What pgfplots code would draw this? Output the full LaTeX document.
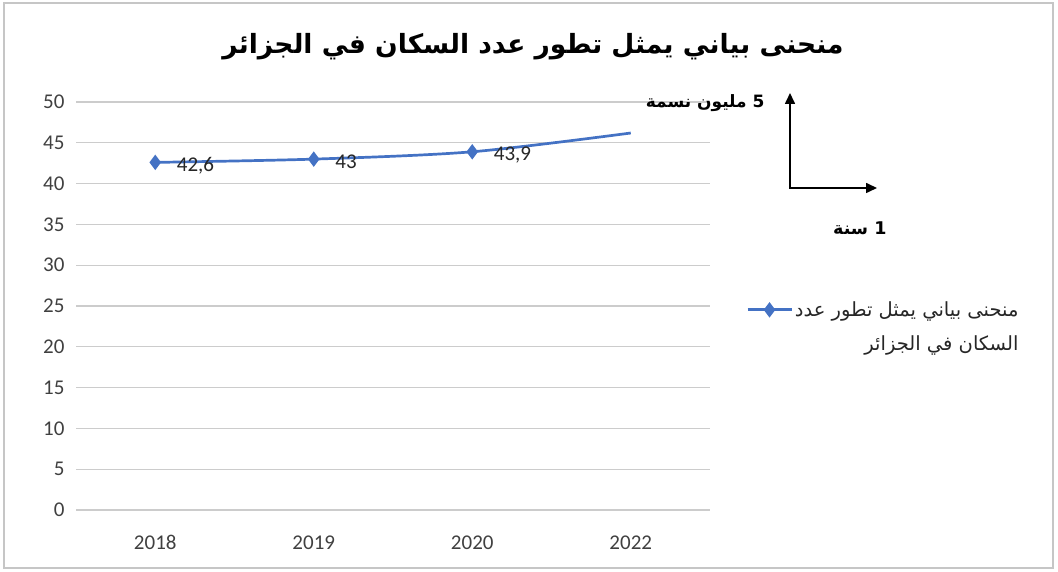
\documentclass[border=0pt]{standalone}
\usepackage{fontspec}
\setmainfont{Carlito}
\newfontfamily\arabicfont[Script=Arabic]{DejaVu Sans}
\TeXXeTstate=1
\usepackage{pgfplots}
\pgfplotsset{compat=1.18}
\usetikzlibrary{arrows.meta}
\definecolor{serieblue}{HTML}{4472C4}
\definecolor{ticktext}{HTML}{404040}

\begin{document}
\begin{tikzpicture}[x=1pt,y=1pt]
\path[use as bounding box] (0,0) rectangle (1058,-572);
\draw[gray!45, line width=1.2pt] (4,-3) rectangle (1053,-568);

% title
\node[font=\arabicfont\bfseries\fontsize{26.5}{30}\selectfont] at (533,-47)
  {\beginR منحنى بياني يمثل تطور عدد السكان في الجزائر\endR};

\begin{axis}[
  at={(76pt,-510pt)}, anchor=south west,
  scale only axis, width=634pt, height=408pt,
  xmin=-0.5, xmax=3.5, ymin=0, ymax=50,
  xtick={0,1,2,3}, xticklabels={2018,2019,2020,2022},
  ytick={0,5,...,50},
  axis line style={draw=none},
  major tick length=0pt,
  ymajorgrids, grid style={gray!40, line width=1.2pt},
  tick label style={font=\fontsize{21}{24}\selectfont, text=ticktext},
  /pgf/number format/assume math mode=true,
  yticklabel style={anchor=east, xshift=-8pt},
  xticklabel style={anchor=north, yshift=-22pt},
  clip=false,
  legend style={draw=none, fill=none, at={(1.052,0.449)}, anchor=west,
    font=\arabicfont\fontsize{19.5}{34}\selectfont, text=black!85,
    cells={align=right}},
  legend image code/.code={
    \draw[#1, yshift=17pt] (0pt,0pt) -- (44pt,0pt);
    \draw[#1, yshift=17pt] plot coordinates {(22pt,0pt)};
  },
]
\addplot[serieblue, line width=2.7pt, smooth, mark=diamond*,
  mark size=5.5pt, mark indices={1,2,3}, mark options={solid},
  nodes near coords, point meta=explicit symbolic,
  every node near coord/.style={anchor=west, xshift=17pt, yshift=-3pt,
    font=\fontsize{21}{24}\selectfont, text=black!85}]
  table[meta=lab] {
x y lab
0 42.6 42,6
1 43 43
2 43.9 43,9
3 46.2 {}
};
\addlegendentry{\beginR منحنى بياني يمثل تطور عدد\endR\\\beginR السكان في الجزائر\endR}
\end{axis}

% unit arrows
\draw[line width=1.6pt, -{Triangle[length=11pt,width=10pt]}] (790,-188) -- (790,-93);
\draw[line width=1.6pt, -{Triangle[length=11pt,width=10pt]}] (789.2,-188) -- (877,-188);
\node[anchor=east, font=\arabicfont\bfseries\fontsize{17}{20}\selectfont] at (768,-103)
  {\beginR 5 مليون نسمة\endR};
\node[anchor=east, font=\arabicfont\bfseries\fontsize{17.5}{20}\selectfont] at (890,-228)
  {\beginR 1 سنة\endR};
\end{tikzpicture}
\end{document}
